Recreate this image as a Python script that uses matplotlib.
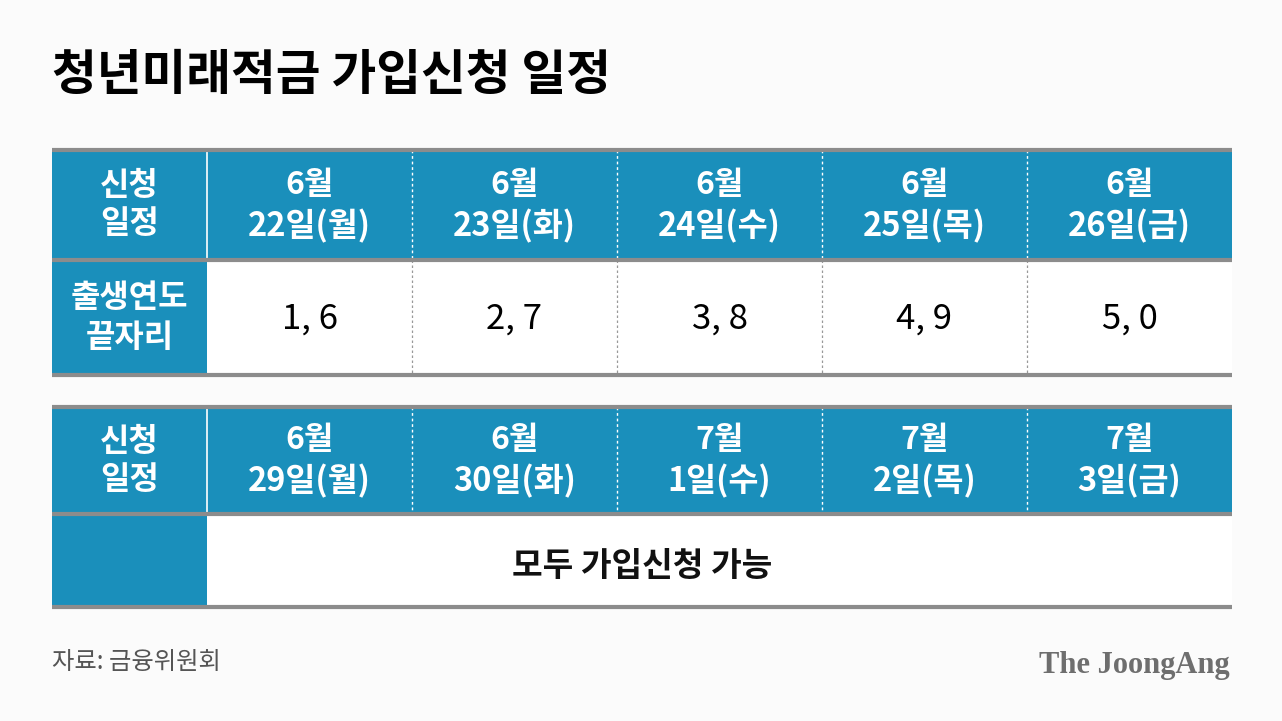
import matplotlib.pyplot as plt
from matplotlib.patches import Rectangle

plt.rcParams['font.family'] = ['Noto Sans CJK KR', 'DejaVu Sans']

# chart data
title = '청년미래적금 가입신청 일정'
row_head1 = ['신청', '일정']
row_head2 = ['출생연도', '끝자리']
months1 = ['6월', '6월', '6월', '6월', '6월']
days1 = ['22일(월)', '23일(화)', '24일(수)', '25일(목)', '26일(금)']
digits = ['1, 6', '2, 7', '3, 8', '4, 9', '5, 0']
months2 = ['6월', '6월', '7월', '7월', '7월']
days2 = ['29일(월)', '30일(화)', '1일(수)', '2일(목)', '3일(금)']
all_ok = '모두 가입신청 가능'
source = '자료: 금융위원회'
brand = 'The JoongAng'

blue = '#1a8fbb'
line_gray = '#8c8c8c'
bg = '#fbfbfb'

W, H = 1282, 721
fig = plt.figure(figsize=(W / 100, H / 100), dpi=100, facecolor=bg)
ax = fig.add_axes([0, 0, 1, 1])
ax.set_xlim(0, W)
ax.set_ylim(H, 0)
ax.axis('off')

left, right = 52, 1232
first_w = 155
col_w = (right - left - first_w) / 5
cols = [left + first_w + i * col_w for i in range(6)]

def table(top, head_h, body_h, months, days, body):
    mid = top + head_h
    bot = mid + body_h
    # header band
    ax.add_patch(Rectangle((left, top), right - left, head_h, color=blue, lw=0))
    # first column body cell
    ax.add_patch(Rectangle((left, mid), first_w, body_h, color=blue, lw=0))
    ax.add_patch(Rectangle((cols[0], mid), right - cols[0], body_h, color='white', lw=0))
    # dividers
    ax.plot([cols[0], cols[0]], [top, mid], color='white', lw=1.2)
    for x in cols[1:5]:
        ax.plot([x, x], [top, mid], color='white', lw=1.0, ls=(0, (2, 2)))
        if body is not None:
            ax.plot([x, x], [mid, bot], color='#999999', lw=0.9, ls=(0, (2, 2)))
    for y in (top, mid, bot):
        ax.plot([left, right], [y, y], color=line_gray, lw=3, solid_capstyle='butt')
    # header texts
    cy = top + head_h / 2
    fx = left + first_w / 2
    ax.text(fx, cy - 19, row_head1[0], color='white', fontsize=23, fontweight='bold', ha='center', va='center')
    ax.text(fx, cy + 19, row_head1[1], color='white', fontsize=23, fontweight='bold', ha='center', va='center')
    for i in range(5):
        cx = (cols[i] + cols[i + 1]) / 2
        ax.text(cx, cy - 20, months[i], color='white', fontsize=23, fontweight='bold', ha='center', va='center')
        ax.text(cx, cy + 21, days[i], color='white', fontsize=23.5, fontweight='bold', ha='center', va='center')
    by = mid + body_h / 2
    if body is not None:
        ax.text(fx, by - 20, row_head2[0], color='white', fontsize=23, fontweight='bold', ha='center', va='center')
        ax.text(fx, by + 20, row_head2[1], color='white', fontsize=23, fontweight='bold', ha='center', va='center')
        for i in range(5):
            cx = (cols[i] + cols[i + 1]) / 2
            ax.text(cx, by + 2, body[i], color='black', fontsize=25, ha='center', va='center')
    else:
        ax.text((left + right) / 2, by + 6, all_ok, color='#111111', fontsize=24, fontweight='bold',
                ha='center', va='center')

table(150, 110, 115, months1, days1, digits)
table(407, 107, 93, months2, days2, None)

ax.text(52, 76, title, color='black', fontsize=35, fontweight='bold', ha='left', va='center')
ax.text(52, 662, source, color='#555555', fontsize=17.5, ha='left', va='center')
ax.text(1230, 666, brand, color='#6e6e6e', fontsize=22, fontweight='bold',
        family='Liberation Serif', ha='right', va='center')

fig.savefig('out.png', dpi=100, facecolor=bg)
